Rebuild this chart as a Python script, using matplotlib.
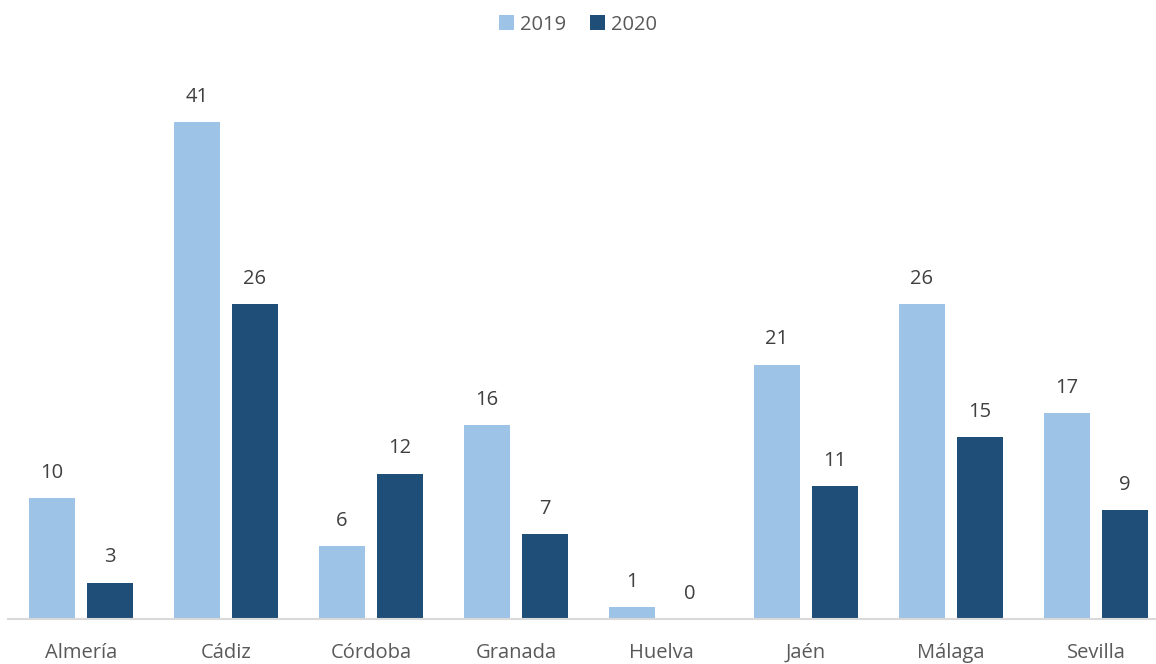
import matplotlib
matplotlib.use("Agg")
import matplotlib.pyplot as plt
import numpy as np

plt.rcParams['font.family'] = ['Open Sans', 'DejaVu Sans']

provincias = ['Almería', 'Cádiz', 'Córdoba', 'Granada', 'Huelva', 'Jaén', 'Málaga', 'Sevilla']
valores_2019 = [10, 41, 6, 16, 1, 21, 26, 17]
valores_2020 = [3, 26, 12, 7, 0, 11, 15, 9]

color_2019 = '#9DC3E6'
color_2020 = '#1F4E79'
gris = '#595959'

fig = plt.figure(figsize=(11.56, 6.64), dpi=100)
ax = fig.add_axes([8 / 1156, 45 / 664, 1148 / 1156, 545 / 664])

x = np.arange(len(provincias))
ancho = 0.317
b1 = ax.bar(x - 0.2, valores_2019, ancho, color=color_2019, label='2019')
b2 = ax.bar(x + 0.2, valores_2020, ancho, color=color_2020, label='2020')

for barras in (b1, b2):
    for b in barras:
        h = b.get_height()
        ax.annotate(f'{h:g}', (b.get_x() + b.get_width() / 2, h),
                    xytext=(0, 11), textcoords='offset points',
                    ha='center', va='bottom', fontsize=14.5, color='#404040')

ax.set_xlim(-0.503, 7.414)
ax.set_ylim(0, 45)
ax.set_xticks(x)
ax.set_xticklabels(provincias, fontsize=14.5, color=gris)
ax.tick_params(axis='x', length=0, pad=17)
ax.set_yticks([])
for s in ['top', 'left', 'right']:
    ax.spines[s].set_visible(False)
ax.spines['bottom'].set_color('#D9D9D9')
ax.spines['bottom'].set_linewidth(1.5)

fig.legend(handles=[b1, b2], loc='upper center', bbox_to_anchor=(0.5, 1.005),
           ncol=2, frameon=False, fontsize=14.5, labelcolor=gris,
           handlelength=0.75, handleheight=0.75, handletextpad=0.3, columnspacing=1.2)

fig.savefig('out.png', dpi=100)
